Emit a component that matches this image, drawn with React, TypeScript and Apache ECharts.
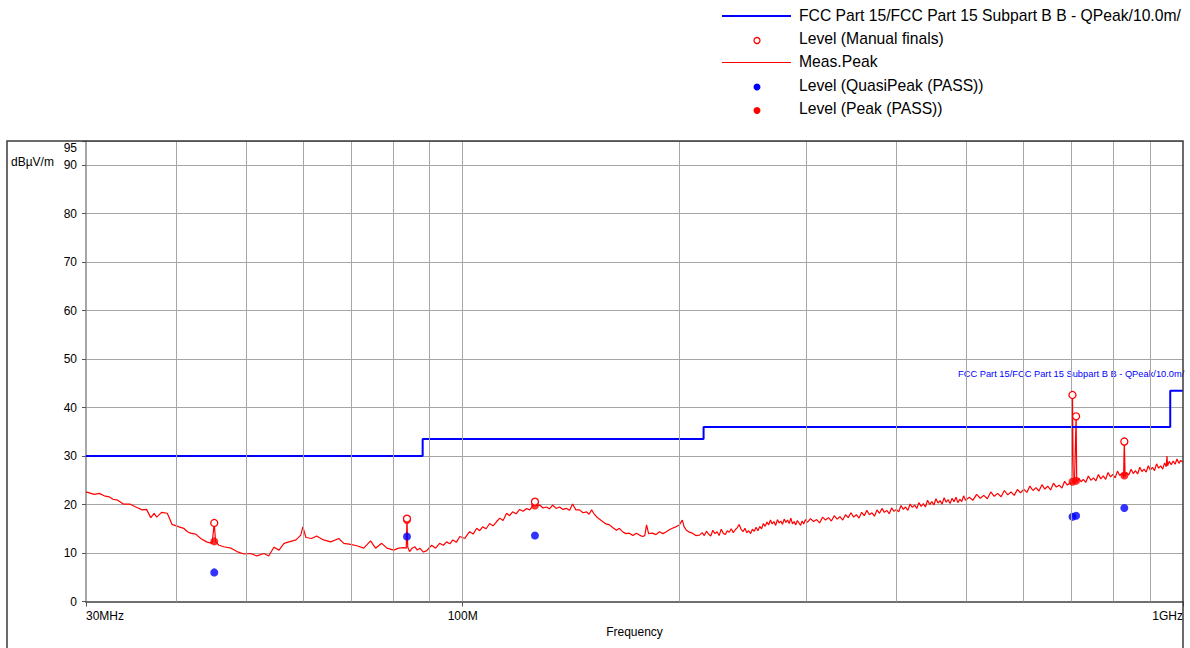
import React, { useEffect, useRef } from "react";
import * as echarts from "echarts";

// Limit line (FCC Part 15 Subpart B, QPeak @ 10 m)
const limitFreq = [30, 88, 88, 216, 216, 960, 960, 1000];
const limitLevel = [30, 30, 33.5, 33.5, 36, 36, 43.5, 43.5];

// Meas.Peak trace [MHz, dBµV/m]
const peakTrace: [number, number][] = [
  [30, 22.6], [30.8, 22.1], [31.3, 22.3], [31.8, 21.8], [32.3, 21.6], [32.7, 21.1], [33.2, 20.9], [33.8, 20.1],
  [34.5, 20.1], [35.3, 19.4], [35.9, 18.9], [36.4, 19.0], [36.9, 17.3], [37.3, 18.2], [37.6, 17.4], [38.2, 18.4],
  [38.9, 18.2], [39.5, 15.9], [40.4, 15.4], [41.0, 15.1], [41.5, 14.4], [41.9, 14.1], [42.6, 13.9], [43.3, 13.0],
  [44.1, 12.3], [44.9, 12.0], [45.2, 16.2], [45.4, 12.3], [45.9, 11.6], [46.6, 11.3], [47.7, 11.0], [48.6, 10.3],
  [49.7, 9.8], [50.8, 9.9], [51.8, 9.4], [53.0, 9.9], [53.8, 9.4], [54.7, 11.2], [55.6, 10.6], [56.5, 12.0],
  [57.4, 12.3], [58.7, 12.7], [59.6, 13.7], [60.0, 15.4], [60.6, 13.2], [61.7, 13.0], [62.7, 13.5], [64.1, 12.7],
  [65.6, 12.3], [67.3, 13.0], [68.4, 12.0], [69.9, 11.8], [71.3, 11.5], [72.9, 11.0], [74.5, 12.5], [75.7, 11.0],
  [77.2, 12.0], [78.5, 11.0], [80.2, 10.6], [81.5, 11.0], [82.8, 11.1], [83.5, 11.0], [83.7, 17.1], [83.9, 11.2],
  [84.4, 10.3], [85.1, 11.0], [85.8, 11.3], [86.5, 10.6], [87.2, 11.0], [88.2, 10.2], [89.2, 10.5], [90.0, 11.2],
  [90.6, 11.6], [91.7, 11.0], [92.9, 12.0], [94.0, 11.6], [95.0, 12.3], [96.0, 11.9], [96.9, 12.7], [98.0, 12.2],
  [99.1, 13.4], [100.7, 13.0], [101.5, 13.8], [102.3, 14.4], [103.4, 13.9], [104.6, 15.1], [105.6, 14.6], [106.6, 15.4],
  [107.8, 15.0], [109.0, 16.1], [110.2, 15.6], [111.5, 16.5], [112.6, 17.2], [113.8, 16.7], [115.1, 18.2], [116.2, 17.7],
  [117.3, 18.5], [118.6, 18.1], [120.0, 19.0], [121.3, 18.6], [122.7, 19.2], [123.9, 18.9], [125.1, 19.7], [126.0, 20.6],
  [126.6, 19.8], [127.9, 19.9], [129.3, 19.3], [130.8, 19.5], [132.0, 19.1], [133.3, 19.9], [134.8, 19.2], [136.3, 19.5],
  [137.8, 19.0], [139.4, 19.2], [140.7, 18.8], [142.1, 20.1], [143.6, 18.9], [145.3, 18.9], [146.9, 18.3], [148.6, 18.5],
  [149.8, 18.0], [151.0, 18.9], [152.2, 18.1], [153.4, 17.5], [154.8, 17.0], [156.4, 16.5], [158.1, 16.0], [159.9, 15.8],
  [161.7, 15.2], [163.5, 14.7], [165.0, 15.1], [166.7, 14.4], [168.5, 14.0], [170.4, 14.1], [172.3, 13.6], [174.3, 14.1],
  [176.0, 13.7], [177.7, 13.4], [179.0, 13.6], [180.0, 15.8], [181.2, 14.0], [183.4, 14.1], [185.5, 13.8], [187.6, 14.4],
  [189.7, 14.0], [191.8, 14.4], [193.6, 14.8], [195.5, 15.1], [197.7, 15.4], [199.9, 15.8], [201.8, 16.8], [203.0, 15.4],
  [204.5, 14.7], [206.4, 14.3], [208.4, 14.1], [210.7, 13.6], [213.1, 13.7],
  [215, 14.2], [216.5, 13.6], [218, 14.5], [219.5, 13.9], [221, 13.5], [222.5, 14.7], [224, 14.0], [225.5, 14.4],
  [227, 13.6], [228.5, 14.9], [230, 14.1], [231.5, 13.8], [233, 14.6], [234.5, 14.3], [236, 15.0], [237.5, 14.2],
  [239, 14.8], [240.5, 15.2], [242, 15.9], [243.5, 14.9], [245, 14.4], [246.5, 15.1], [248, 14.2], [249.5, 14.6],
  [251, 14.0], [252.5, 14.9], [254, 14.5], [255.5, 15.3], [257, 14.6], [258.5, 15.5], [260, 15.0], [261.5, 16.1],
  [263, 15.5], [264.5, 16.4], [266, 15.8], [267.5, 16.8], [269, 16.0], [270.5, 16.5], [272, 15.7], [273.5, 16.9],
  [275, 16.2], [276.5, 16.6], [278, 15.9], [279.5, 17.0], [281, 16.3], [282.5, 16.8], [284, 16.1], [285.5, 17.2],
  [287, 16.0], [288.5, 16.5], [290, 15.8], [291.5, 16.7], [293, 16.2], [294.5, 15.7], [296, 16.6], [297.5, 16.0],
  [299, 16.9], [301, 16.3], [304, 17.1], [307, 16.5], [310, 16.9], [313, 16.2], [316, 17.4], [319, 16.8],
  [322, 17.3], [325, 16.6], [328, 17.7], [331, 17.0], [334, 17.5], [337, 16.8], [340, 17.9], [343, 17.3],
  [346, 18.3], [349, 17.4], [352, 17.9], [355, 17.2], [358, 18.4], [361, 17.7], [364, 18.8], [367, 17.9],
  [370, 18.3], [373, 17.6], [376, 18.9], [379, 18.2], [382, 19.2], [385, 18.4], [388, 18.8], [391, 18.1],
  [394, 19.3], [397, 18.6], [400, 19.0], [403, 18.5], [406, 19.8], [409, 19.0], [412, 19.5], [415, 18.8],
  [418, 20.1], [421, 19.4], [424, 19.9], [427, 19.2], [430, 20.4], [433, 19.6], [436, 20.2], [439, 19.5],
  [442, 20.9], [445, 20.0], [448, 20.6], [451, 19.9], [454, 21.2], [457, 20.3], [460, 20.8], [463, 20.1],
  [466, 21.4], [469, 20.5], [472, 21.0], [475, 20.2], [478, 21.3], [481, 20.6], [484, 21.5], [487, 20.4],
  [490, 21.1], [493, 20.6], [496, 21.8], [499, 20.9], [505, 21.5], [511, 20.9], [517, 22.1], [523, 21.3],
  [529, 21.9], [535, 21.2], [541, 22.6], [547, 21.7], [553, 22.3], [559, 21.6], [565, 22.9], [571, 22.0],
  [577, 22.6], [583, 21.9], [589, 23.1], [595, 22.4], [601, 23.2], [607, 22.5], [613, 23.8], [619, 22.9],
  [625, 23.5], [631, 22.8], [637, 24.1], [643, 23.2], [649, 23.8], [655, 23.0], [661, 24.4], [667, 23.6],
  [673, 24.0], [679, 23.4], [685, 24.8], [691, 24.0], [697, 24.5], [700, 24.1], [702.4, 42.6], [704, 24.4],
  [707, 25.1], [710.6, 38.2], [712, 24.6], [717, 25.4], [722, 24.7], [727, 25.2], [733, 24.6], [739, 25.9],
  [745, 25.0], [751, 25.5], [757, 24.9], [763, 26.2], [769, 25.3], [775, 25.9], [781, 25.2], [787, 26.6],
  [793, 25.7], [799, 26.2], [805, 25.5], [811, 26.9], [817, 26.0], [823, 26.5], [827, 25.6], [829, 33.0],
  [831, 25.8], [835, 26.6], [841, 26.1], [847, 27.3], [853, 26.4], [859, 27.0], [865, 26.3], [871, 27.7],
  [877, 26.8], [883, 27.3], [889, 26.7], [895, 28.0], [901, 27.1], [907, 27.7], [913, 27.0], [919, 28.4],
  [925, 27.5], [931, 28.0], [937, 27.3], [943, 28.6], [948, 27.8], [950, 30.0], [952, 28.0], [957, 28.9],
  [963, 28.2], [969, 29.0], [975, 28.3], [981, 29.4], [987, 28.5], [993, 29.1], [1000, 28.7],
];

// Final measurements
const finalFreq = [45.2, 83.7, 126.0, 702.4, 710.6, 829.0];
const manualLevel = [16.2, 17.1, 20.6, 42.6, 38.2, 33.0];
const qpLevel = [6.0, 13.4, 13.6, 17.5, 17.7, 19.3];
const pkLevel = [12.4, 16.8, 19.8, 24.7, 24.9, 26.0];

// Axes
const gridFreqs = [40, 50, 60, 70, 80, 90, 100, 200, 300, 400, 500, 600, 700, 800, 900];
const xTickLabels: Record<number, string> = { 30: "30MHz", 100: "100M", 1000: "1GHz" };
const yMin = 0;
const yMax = 95;
const yInterval = 10;

const legendNames = [
  "FCC Part 15/FCC Part 15 Subpart B B - QPeak/10.0m/",
  "Level (Manual finals)",
  "Meas.Peak",
  "Level (QuasiPeak (PASS))",
  "Level (Peak (PASS))",
];
const limitLabel = "FCC Part 15/FCC Part 15 Subpart B B - QPeak/10.0m/";
const yUnit = "dBµV/m";
const xName = "Frequency";

const FONT = "'Liberation Sans', Arial, sans-serif";

export default function App() {
  const ref = useRef<HTMLDivElement>(null);
  useEffect(() => {
    document.body.style.margin = "0";
    if (!ref.current) return;
    const chart = echarts.init(ref.current, undefined, { renderer: "svg" });
    const zip = (a: number[], b: number[]) => a.map((v, i) => [v, b[i]]);
    const legendY = [15, 38.3, 61.7, 85, 108.3];
    const option: any = {
      animation: false,
      backgroundColor: "#ffffff",
      textStyle: { fontFamily: FONT },
      grid: { left: 86, right: 7, top: 141, bottom: 46.5, containLabel: false },
      xAxis: {
        type: "log",
        logBase: 10,
        min: 30,
        max: 1000,
        name: xName,
        nameLocation: "middle",
        nameGap: 24,
        nameTextStyle: { fontSize: 12, color: "#000", fontFamily: FONT },
        axisLine: { show: true, lineStyle: { color: "#6e6e6e", width: 2 } },
        axisTick: { show: true, length: 5, lineStyle: { color: "#555" } },
        splitLine: { show: false },
        axisLabel: {
          fontSize: 12,
          color: "#000",
          fontFamily: FONT,
          margin: 8,
          alignMinLabel: "left",
          alignMaxLabel: "right",
          formatter: (v: number) => xTickLabels[Math.round(v)] ?? "",
        },
      },
      yAxis: {
        type: "value",
        min: yMin,
        max: yMax,
        interval: yInterval,
        axisLine: { show: true, lineStyle: { color: "#888", width: 1.5 } },
        axisTick: { show: true, length: 4, lineStyle: { color: "#555" } },
        splitLine: { show: true, lineStyle: { color: "#a6a6a6", width: 1 } },
        axisLabel: {
          fontSize: 12,
          color: "#000",
          fontFamily: FONT,
          margin: 9,
          padding: [0, 0, 6, 0],
          formatter: (v: number) => (v === yMax ? "" : String(v)),
        },
      },
      series: [
        {
          name: "grid",
          type: "line",
          data: [[30, -10]],
          symbol: "none",
          lineStyle: { opacity: 0 },
          z: 1,
          silent: true,
          markLine: {
            silent: true,
            symbol: ["none", "none"],
            label: { show: false },
            lineStyle: { color: "#a6a6a6", width: 1, type: "solid" },
            data: gridFreqs.map((f) => ({ xAxis: f })),
          },
        },
        {
          name: legendNames[2],
          type: "line",
          data: peakTrace,
          symbol: "none",
          lineStyle: { color: "#ff0000", width: 1.2 },
          z: 2,
        },
        {
          name: legendNames[0],
          type: "line",
          data: zip(limitFreq, limitLevel),
          symbol: "none",
          lineStyle: { color: "#0000ff", width: 2 },
          z: 3,
        },
        {
          name: legendNames[3],
          type: "scatter",
          data: zip(finalFreq, qpLevel),
          symbol: "circle",
          symbolSize: 8,
          itemStyle: { color: "#0000ff" },
          z: 4,
        },
        {
          name: legendNames[4],
          type: "scatter",
          data: zip(finalFreq, pkLevel),
          symbol: "circle",
          symbolSize: 8,
          itemStyle: { color: "#ff0000" },
          z: 5,
        },
        {
          name: legendNames[1],
          type: "scatter",
          data: zip(finalFreq, manualLevel),
          symbol: "circle",
          symbolSize: 7,
          itemStyle: { color: "#ffffff", borderColor: "#ff0000", borderWidth: 1.3, opacity: 1 },
          z: 6,
        },
      ],
      graphic: [
        {
          type: "rect",
          silent: true,
          shape: { x: 7, y: 141, width: 1176, height: 530 },
          style: { fill: "none", stroke: "#3a3a3a", lineWidth: 1.5 },
          z: 10,
        },
        {
          type: "text",
          x: 11,
          y: 162,
          style: { text: yUnit, fontSize: 12, fill: "#000", fontFamily: FONT, verticalAlign: "middle", align: "left" },
        },
        {
          type: "text",
          x: 77,
          y: 148,
          style: { text: String(yMax), fontSize: 12, fill: "#000", fontFamily: FONT, verticalAlign: "middle", align: "right" },
        },
        {
          type: "text",
          x: 958,
          y: 374,
          style: {
            text: limitLabel,
            fontSize: 9.3,
            fill: "#0000ff",
            fontFamily: FONT,
            verticalAlign: "middle",
            align: "left",
            width: 231,
            overflow: "truncate",
            ellipsis: "",
          },
        },
        {
          type: "line",
          shape: { x1: 722, y1: 16, x2: 791, y2: 16 },
          style: { stroke: "#0000ff", lineWidth: 2 },
        },
        {
          type: "circle",
          shape: { cx: 757, cy: 40.5, r: 3 },
          style: { fill: "#fff", stroke: "#ff0000", lineWidth: 1.3 },
        },
        {
          type: "line",
          shape: { x1: 722, y1: 62.5, x2: 791, y2: 62.5 },
          style: { stroke: "#ff0000", lineWidth: 1 },
        },
        {
          type: "circle",
          shape: { cx: 757, cy: 87, r: 3.5 },
          style: { fill: "#0000ff" },
        },
        {
          type: "circle",
          shape: { cx: 757, cy: 110.5, r: 3.5 },
          style: { fill: "#ff0000" },
        },
        ...legendNames.map((n, i) => ({
          type: "text",
          x: 799,
          y: legendY[i],
          style: { text: n, fontSize: 15.7, fill: "#000", fontFamily: FONT, verticalAlign: "middle", align: "left" },
        })),
      ],
    };
    chart.setOption(option);
    return () => chart.dispose();
  }, []);
  return <div ref={ref} style={{ width: 1190, height: 648 }} />;
}
